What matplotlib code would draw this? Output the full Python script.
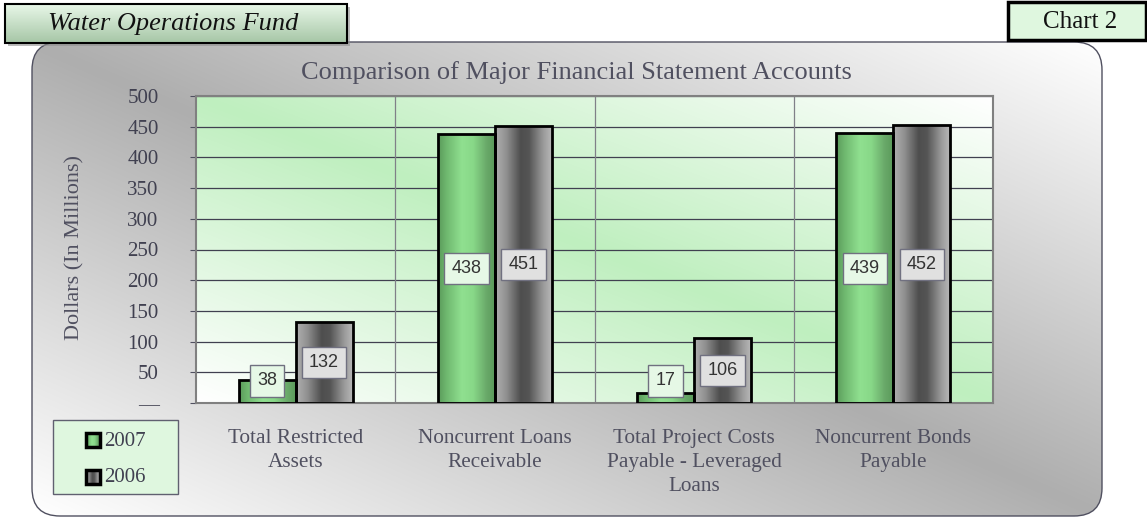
import numpy as np
import matplotlib
matplotlib.use("Agg")
import matplotlib.pyplot as plt
from matplotlib.patches import FancyBboxPatch, Rectangle
from matplotlib.colors import to_rgb

# ---------------- data ----------------
categories = ["Total Restricted\nAssets", "Noncurrent Loans\nReceivable",
              "Total Project Costs\nPayable - Leveraged\nLoans", "Noncurrent Bonds\nPayable"]
series_names = ["2007", "2006"]
values_2007 = [38, 438, 17, 439]
values_2006 = [132, 451, 106, 452]
y_ticks = [0, 50, 100, 150, 200, 250, 300, 350, 400, 450, 500]
y_tick_labels = ["—", "50", "100", "150", "200", "250", "300", "350", "400", "450", "500"]
title = "Comparison of Major Financial Statement Accounts"
y_label = "Dollars (In Millions)"
header = "Water Operations Fund"
chart_no = "Chart 2"

SERIF = "Liberation Serif"
SANS = "Liberation Sans"
W, H = 1147, 518


def diag_gradient(sat, nx=300, ny=150):
    xs = np.linspace(0, 1, nx)
    ys = np.linspace(1, 0, ny)
    X, Y = np.meshgrid(xs, ys)
    t = np.abs(X + Y - 1.0)
    s = np.array(to_rgb(sat))
    img = s[None, None, :] + (1 - s)[None, None, :] * t[..., None]
    return np.clip(img, 0, 1)


def h_gradient(stops, n=200):
    pos = np.array([p for p, _ in stops])
    cols = np.array([to_rgb(c) for _, c in stops])
    xs = np.linspace(0, 1, n)
    img = np.stack([np.interp(xs, pos, cols[:, k]) for k in range(3)], axis=-1)
    return img[None, :, :]


def v_gradient(top, bottom, n=100):
    a = np.array(to_rgb(top)); b = np.array(to_rgb(bottom))
    t = np.linspace(0, 1, n)[:, None]
    return (a + (b - a) * t)[:, None, :]


green_stops = [(0.0, "#5a9a5a"), (0.15, "#6fb86f"), (0.42, "#90e090"),
               (0.62, "#88d888"), (0.85, "#6aaa6a"), (1.0, "#5a9a5a")]
gray_stops = [(0.0, "#b0b0b0"), (0.2, "#909090"), (0.45, "#4e4e4e"),
              (0.6, "#555555"), (0.85, "#9a9a9a"), (1.0, "#b8b8b8")]
series_grad = [h_gradient(green_stops), h_gradient(gray_stops)]
label_fc = ["#e6f8e6", "#e0e0e0"]

fig = plt.figure(figsize=(W / 100, H / 100), dpi=100)
fig.patch.set_facecolor("white")

# ---------------- background layer ----------------
bg = fig.add_axes([0, 0, 1, 1], zorder=-1)
bg.set_xlim(0, W); bg.set_ylim(H, 0); bg.axis("off")

panel = FancyBboxPatch((32, 42), 1070, 474, boxstyle="round,pad=0,rounding_size=28",
                       fc="none", ec="#505060", lw=1.0, zorder=2)
bg.add_patch(panel)
im = bg.imshow(diag_gradient("#aeaeae"), extent=(32, 1102, 516, 42), aspect="auto",
               zorder=1, interpolation="bilinear")
im.set_clip_path(panel)

# header box
bg.add_patch(Rectangle((8, 7), 342, 39, fc="#909090", ec="none", alpha=0.6, zorder=3))
hdr = Rectangle((5, 4), 342, 39, fc="none", ec="black", lw=1.5, zorder=5)
bg.add_patch(hdr)
bg.imshow(v_gradient("#e8f7e8", "#a6c6a6"), extent=(5, 347, 43, 4), aspect="auto",
          zorder=4, interpolation="bilinear")
bg.text(48, 24, header, fontsize=19, family=SERIF, style="italic", color="#111111",
        ha="left", va="center", zorder=6)

# chart number box
bg.add_patch(Rectangle((1008, 2), 138, 38, fc="#dff7df", ec="black", lw=2.5, zorder=5))
bg.text(1080, 22, chart_no, fontsize=18, family=SERIF, color="#111111",
        ha="center", va="center", zorder=6)

# legend
bg.add_patch(Rectangle((53, 420), 125, 74, fc="#dff7df", ec="#606070", lw=1.0, zorder=5))
for i, name in enumerate(series_names):
    yc = 440 + i * 37
    sq = Rectangle((86, yc - 7), 14, 14, fc="none", ec="black", lw=2.5, zorder=7)
    bg.add_patch(sq)
    bg.imshow(series_grad[i], extent=(86, 100, yc + 7, yc - 7), aspect="auto", zorder=6)
    bg.text(104, yc + 1, name, fontsize=15, family=SERIF, color="#404050",
            ha="left", va="center", zorder=7)

fig.text(576 / W, 1 - 73 / H, title, fontsize=19, family=SERIF, color="#505060",
         ha="center", va="center")
fig.text(75 / W, 1 - 247 / H, y_label, fontsize=16, family=SERIF, color="#505060",
         ha="center", va="center", rotation=90)

# ---------------- main axes ----------------
ax = fig.add_axes([196 / W, (H - 403) / H, 797 / W, 307 / H])
ax.set_facecolor("none")
ax.imshow(diag_gradient("#bfefbf"), extent=(0, 1, 0, 1), transform=ax.transAxes,
          aspect="auto", zorder=0, interpolation="bilinear")

x = np.arange(len(categories))
w = 0.286
all_vals = [values_2007, values_2006]
for si, vals in enumerate(all_vals):
    offs = -w / 2 if si == 0 else w / 2
    bars = ax.bar(x + offs, vals, w, fc="none", ec="black", lw=2, zorder=3)
    for b, v in zip(bars, vals):
        x0 = b.get_x()
        g = ax.imshow(series_grad[si], extent=(x0, x0 + w, 0, v), aspect="auto",
                      zorder=2.5, interpolation="bilinear")
        g.set_clip_path(b)
        ax.text(x0 + w / 2, max(v / 2, 36), str(v), ha="center", va="center",
                fontsize=13, family=SANS, color="#333333", zorder=5,
                bbox=dict(boxstyle="square,pad=0.4", fc=label_fc[si], ec="#707080", lw=1))

for b in [0.5, 1.5, 2.5]:
    ax.axvline(b, color="#808088", lw=0.9, zorder=1)
ax.set_axisbelow(True)
ax.yaxis.grid(True, color="#404050", lw=0.9, zorder=1)

ax.set_xlim(-0.5, len(categories) - 0.5)
ax.set_ylim(0, 500)
ax.set_yticks(y_ticks)
ax.set_yticklabels(y_tick_labels, fontsize=15, family=SERIF, color="#404050")
ax.set_xticks(x)
ax.set_xticklabels(categories, fontsize=15.3, family=SERIF, color="#505060",
                   linespacing=1.36)
ax.tick_params(axis="y", direction="out", length=4.5, color="#505060", pad=22.5)
ax.tick_params(axis="x", length=0, pad=19)
for s in ax.spines.values():
    s.set_color("#808080"); s.set_linewidth(1.5)

fig.savefig("out.png", dpi=100)
